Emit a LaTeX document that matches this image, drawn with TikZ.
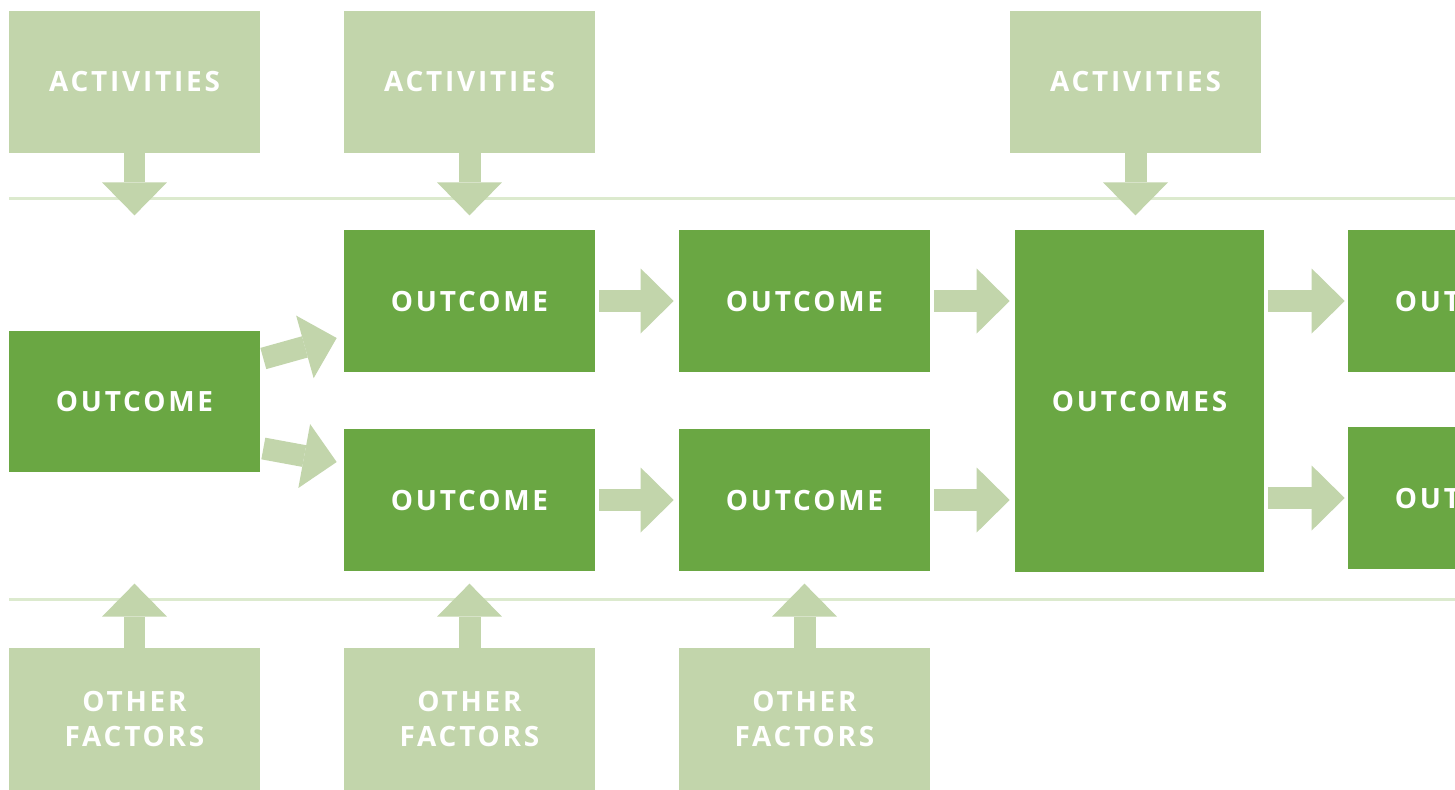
\documentclass[tikz,border=0pt]{standalone}
\usepackage{fontspec}
\newfontfamily\boxfont{Open Sans}[LetterSpace=10]
\usetikzlibrary{arrows.meta}
\definecolor{dkgreen}{RGB}{106,167,67}
\definecolor{ltgreen}{RGB}{194,213,171}
\definecolor{rulegreen}{RGB}{220,234,206}

\begin{document}
\begin{tikzpicture}[x=0.02cm,y=-0.02cm,
   box/.style={inner sep=0pt,minimum width=5.02cm,minimum height=2.84cm,
      text=white,align=center,font=\boxfont\bfseries\fontsize{15.9}{19.9}\selectfont},
   outbox/.style={box,fill=dkgreen},
   inbox/.style={box,fill=ltgreen},
   rule/.style={draw=rulegreen,line width=0.06cm},
   flow/.style={draw=ltgreen,line width=0.44cm,
      -{Triangle[width=1.3cm,length=0.66cm,line width=0pt]}}]
   \useasboundingbox (0,0) rectangle (1455,789);
   \fill[white] (0,0) rectangle (1455,789);
   \clip (0,0) rectangle (1455,789);
   \draw[rule] (9,198) -- (1455,198);
   \draw[rule] (9,599) -- (1455,599);
   \node[inbox] (act1) at (134.5,82) {ACTIVITIES};
   \node[inbox] (act2) at (469.5,82) {ACTIVITIES};
   \node[inbox] (act3) at (1135.5,82) {ACTIVITIES};
   \node[outbox] (out0) at (134.5,401.5) {OUTCOME};
   \node[outbox] (out1) at (469.5,301) {OUTCOME};
   \node[outbox] (out2) at (469.5,500) {OUTCOME};
   \node[outbox] (out3) at (804.5,301) {OUTCOME};
   \node[outbox] (out4) at (804.5,500) {OUTCOME};
   \node[outbox,minimum width=4.98cm,minimum height=6.84cm] (outs) at (1139.5,401) {OUTCOMES};
   \node[outbox] (out5) at (1473.5,301) {OUTCOME};
   \node[outbox] (out6) at (1473.5,498) {OUTCOME};
   \node[inbox] (oth1) at (134.5,719) {OTHER\\FACTORS};
   \node[inbox] (oth2) at (469.5,719) {OTHER\\FACTORS};
   \node[inbox] (oth3) at (804.5,719) {OTHER\\FACTORS};
   \draw[flow] (act1.south) -- ++(0,62);
   \draw[flow] (act2.south) -- ++(0,62);
   \draw[flow] (act3.south) -- ++(0,62);
   \draw[flow] (oth1.north) -- ++(0,-64);
   \draw[flow] (oth2.north) -- ++(0,-64);
   \draw[flow] (oth3.north) -- ++(0,-64);
   \draw[flow] ([shift={(3,-43)}]out0.east) -- ([shift={(-7,37)}]out1.west);
   \draw[flow] ([shift={(3,47)}]out0.east) -- ([shift={(-7,-38)}]out2.west);
   \draw[flow,shorten <=0.08cm,shorten >=0.1cm] (out1.east) -- (out3.west);
   \draw[flow,shorten <=0.08cm,shorten >=0.1cm] (out2.east) -- (out4.west);
   \draw[flow,shorten <=0.08cm,shorten >=0.1cm] (out3.east) -- (out3.east -| outs.west);
   \draw[flow,shorten <=0.08cm,shorten >=0.1cm] (out4.east) -- (out4.east -| outs.west);
   \draw[flow,shorten <=0.08cm,shorten >=0.06cm] (out5.west -| outs.east) -- (out5.west);
   \draw[flow,shorten <=0.08cm,shorten >=0.06cm] (out6.west -| outs.east) -- (out6.west);
\end{tikzpicture}
\end{document}
